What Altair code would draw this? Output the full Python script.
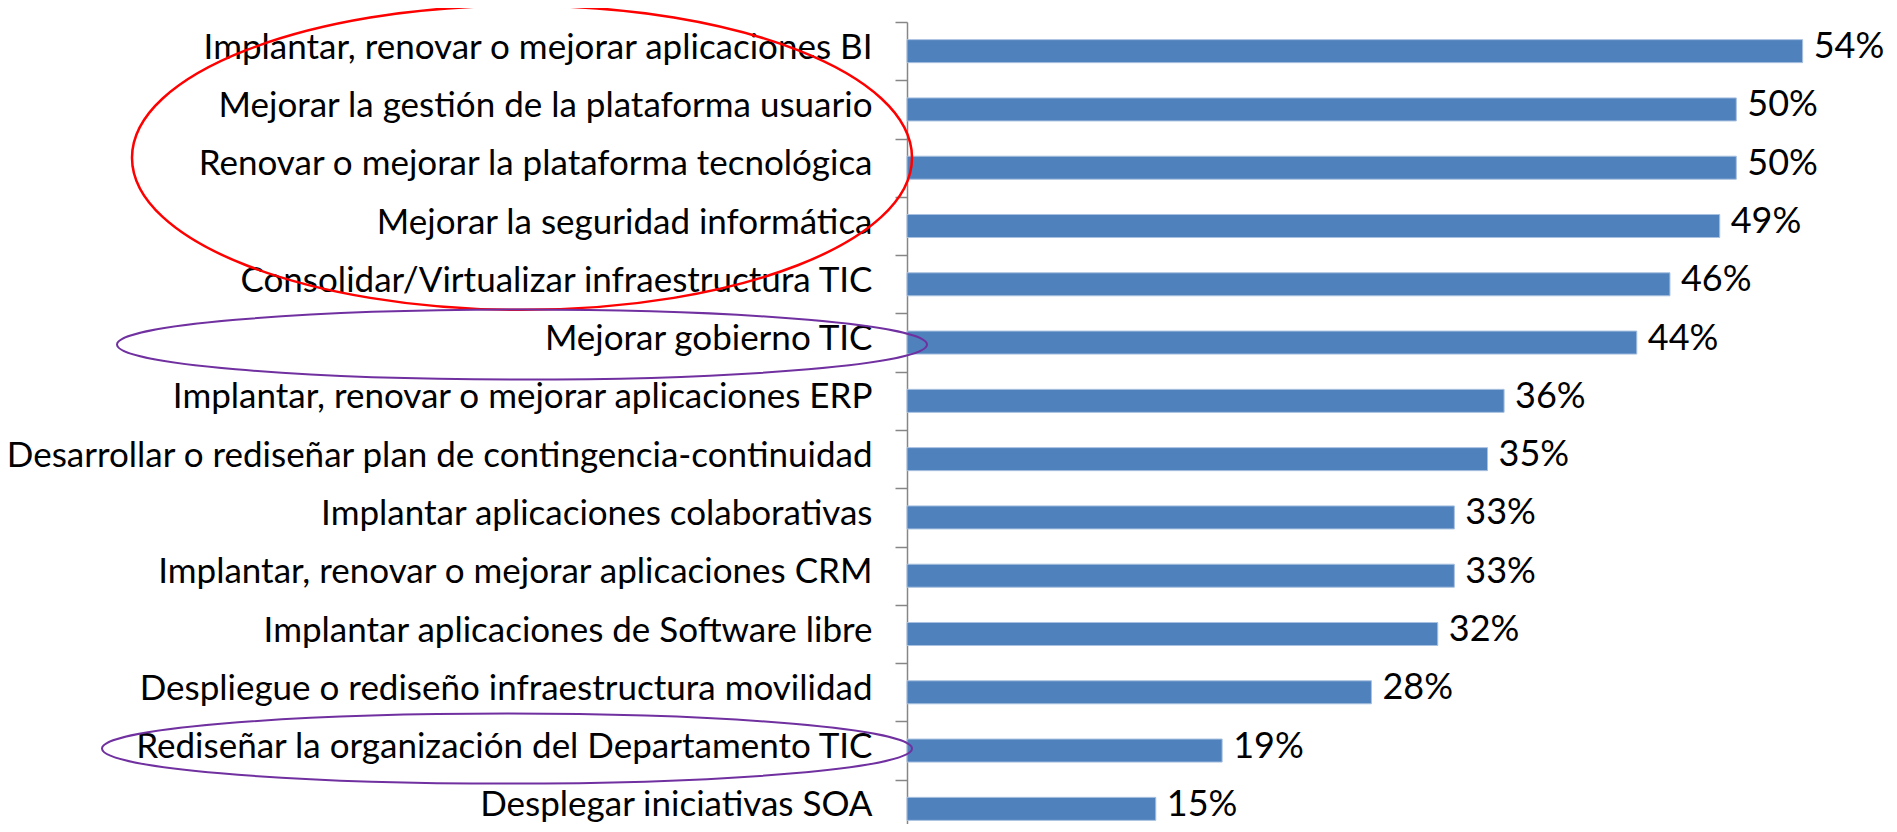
import altair as alt
import pandas as pd

categories = [
    "Implantar, renovar o mejorar aplicaciones BI",
    "Mejorar la gestión de la plataforma usuario",
    "Renovar o mejorar la plataforma tecnológica",
    "Mejorar la seguridad informática",
    "Consolidar/Virtualizar infraestructura TIC",
    "Mejorar gobierno TIC",
    "Implantar, renovar o mejorar aplicaciones ERP",
    "Desarrollar o rediseñar plan de contingencia-continuidad",
    "Implantar aplicaciones colaborativas",
    "Implantar, renovar o mejorar aplicaciones CRM",
    "Implantar aplicaciones de Software libre",
    "Despliegue o rediseño infraestructura movilidad",
    "Rediseñar la organización del Departamento TIC",
    "Desplegar iniciativas SOA",
]
values = [0.54, 0.50, 0.50, 0.49, 0.46, 0.44, 0.36, 0.35, 0.33, 0.33, 0.32, 0.28, 0.19, 0.15]

# categories circled in the reference
red_group_center = [categories[2]]
purple_rows = [categories[5], categories[12]]

df = pd.DataFrame({"tarea": categories, "pct": values})

y_axis = alt.Axis(
    domainColor="#868686", domainWidth=1.5,
    tickColor="#868686", tickWidth=1.5, tickSize=12, tickBand="extent",
    labelFont="Lato", labelFontSize=35, labelColor="black",
    labelPadding=23, labelLimit=1500, labelOffset=-4,
)
y = alt.Y("tarea:N", sort=categories, title=None,
          scale=alt.Scale(paddingInner=0, paddingOuter=0, range=[0, 816]),
          axis=y_axis)
x = alt.X("pct:Q", scale=alt.Scale(domain=[0, 0.58]), axis=None)

bars = alt.Chart(df).mark_bar(
    color="#4F81BD", stroke="#A9C1E0", strokeWidth=1, height={"band": 0.395}
).encode(x=x, y=y)

labels = alt.Chart(df).mark_text(
    align="left", baseline="middle", dx=11, dy=-4, font="Lato", fontSize=36, color="black"
).encode(x=x, y=y, text=alt.Text("pct:Q", format=".0%"))


def ellipse_path(r):
    k = 0.5523
    return (f"M-1,0C-1,{-k*r:.4f},{-k:.4f},{-r},0,{-r}"
            f"C{k:.4f},{-r},1,{-k*r:.4f},1,0"
            f"C1,{k*r:.4f},{k:.4f},{r},0,{r}"
            f"C{-k:.4f},{r},-1,{k*r:.4f},-1,0Z")


y_plain = alt.Y("tarea:N", sort=categories)

red = alt.Chart(pd.DataFrame({"tarea": red_group_center})).mark_point(
    shape=ellipse_path(0.39), size=780 ** 2, filled=False, color="#FF0000",
    strokeWidth=2.5, opacity=1, yOffset=-10
).encode(y=y_plain, x=alt.value(-385))

purple1 = alt.Chart(pd.DataFrame({"tarea": [purple_rows[0]]})).mark_point(
    shape=ellipse_path(0.0864), size=810 ** 2, filled=False, color="#7030A0",
    strokeWidth=2, opacity=1, yOffset=2
).encode(y=y_plain, x=alt.value(-385))

purple2 = alt.Chart(pd.DataFrame({"tarea": [purple_rows[1]]})).mark_point(
    shape=ellipse_path(0.0864), size=810 ** 2, filled=False, color="#7030A0",
    strokeWidth=2, opacity=1, yOffset=-2
).encode(y=y_plain, x=alt.value(-400))

chart = alt.layer(bars, labels, red, purple1, purple2).properties(
    width=962, height=802,
    autosize=alt.AutoSizeParams(type="none"),
    padding={"left": 899, "top": 14, "right": 20, "bottom": 0},
    background="white",
).configure_view(stroke=None)

chart.save("out.html", embed_options={"renderer": "svg", "actions": False})
